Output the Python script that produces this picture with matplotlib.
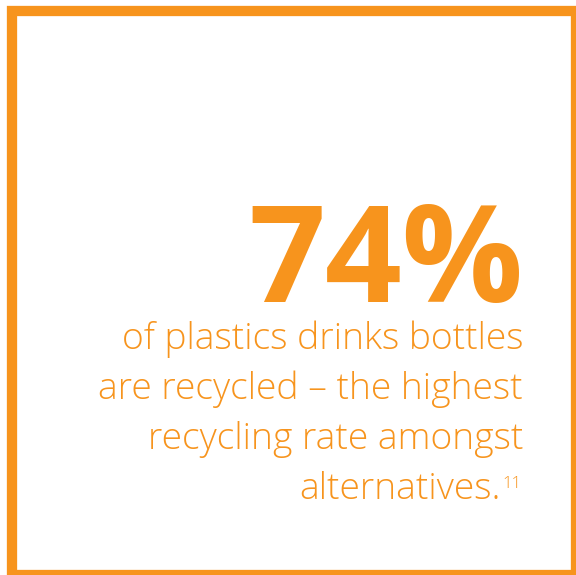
import matplotlib.pyplot as plt
from matplotlib.patches import Rectangle

# text content of the card
stat = "74%"
lines = ["of plastics drinks bottles",
         "are recycled \u2013 the highest",
         "recycling rate amongst",
         "alternatives."]
note = "11"

orange = "#F7941D"
W, H = 576, 575

fig = plt.figure(figsize=(W / 100, H / 100), dpi=100)
fig.patch.set_facecolor("white")


def fx(px):
    return px / W


def fy(py):
    return 1 - py / H


# thick orange frame (runs off the right and bottom edge a little)
fig.patches.append(Rectangle((fx(12), fy(575)), fx(576) - fx(12), fy(11) - fy(575),
                             transform=fig.transFigure, fill=False,
                             edgecolor=orange, linewidth=7.4))

# big number
fig.text(fx(523), fy(302), stat, ha="right", va="baseline", color=orange,
         family="Open Sans", weight="bold", fontsize=97)

# body lines, right aligned, 50px apart
for i, s in enumerate(lines):
    right = 523 if i < 3 else 501
    fig.text(fx(right), fy(349 + 50 * i), s, ha="right", va="baseline",
             color=orange, family="Open Sans", weight="light", fontsize=26.8)

# footnote marker
fig.text(fx(521), fy(488), note, ha="right", va="baseline", color=orange,
         family="Open Sans", weight="light", fontsize=12)

fig.savefig("out.png", dpi=100)
